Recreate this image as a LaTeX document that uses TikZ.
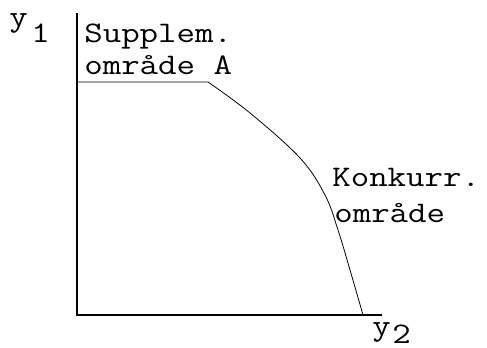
\documentclass[tikz,border=0pt]{standalone}
\usepackage{fontspec}
\setmonofont{Latin Modern Mono}[FakeStretch=1.2]
\usetikzlibrary{positioning}

\begin{document}
\begin{tikzpicture}[
        x=0.02cm, y=-0.02cm,
        lbl/.style={anchor=base west, inner sep=0pt, font=\fontsize{17}{20}\selectfont\ttfamily},
        axis/.style={line width=0.6pt},
        front/.style={line width=0.45pt}
    ]
    \useasboundingbox (0,0) rectangle (487,348);

    % axes
    \coordinate (O) at (77,315);
    \coordinate (Ytop) at (77,13);
    \coordinate (Xend) at (382,315);
    \draw[axis] (Ytop) -- (O) -- (Xend);

    % frontier
    \coordinate (Fa) at (77,82);
    \coordinate (Fb) at (208,82);
    \draw[front] (Fa) -- (Fb)
        plot[smooth, tension=0.6] coordinates {(208,82) (250,113) (300,158) (325,195) (338,230) (350,270) (363,315)};

    % labels
    \node[lbl] (ylab) at (9,27) {y};
    \node[lbl] (ysub) at (31,43) {1};
    \node[lbl] (xlab) at (372,335) {y};
    \node[lbl] (xsub) at (392,343) {2};

    \node[lbl] (supp) at (84,43) {Supplem.};
    \node[lbl] (omrA) at (84,75) {område A};
    \node[lbl] (konk) at (332,187) {Konkurr.};
    \node[lbl] (omrK) at (334,222) {område};

\end{tikzpicture}
\end{document}
